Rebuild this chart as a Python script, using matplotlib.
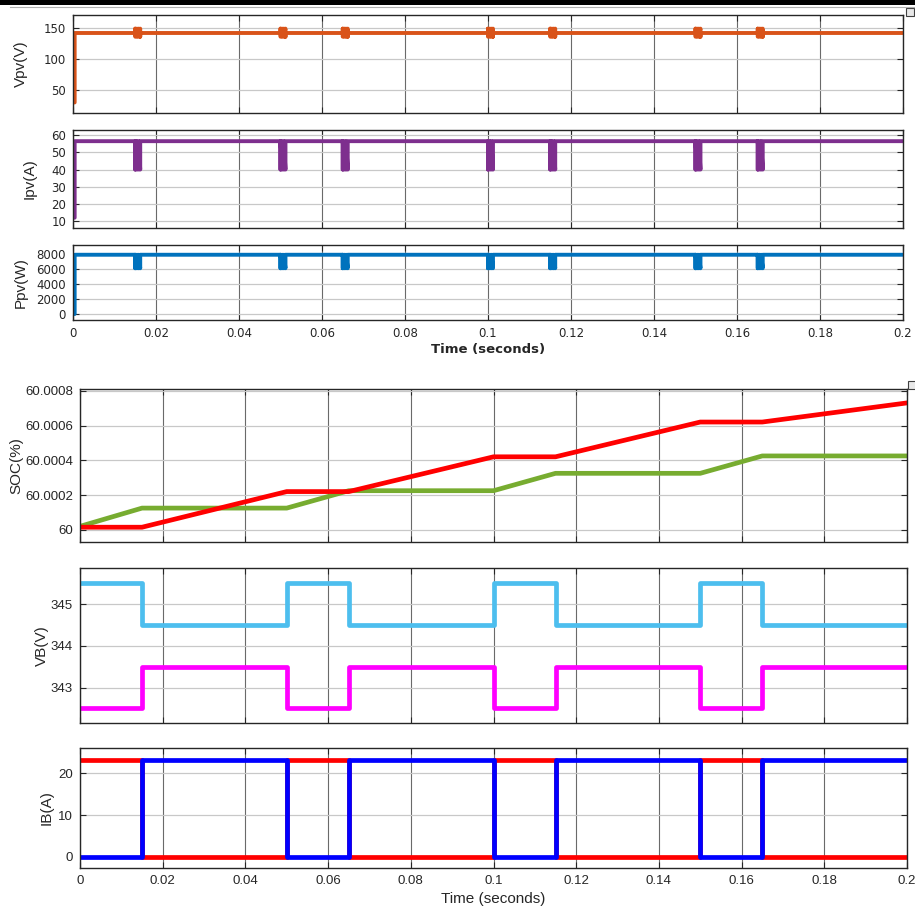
import numpy as np
import matplotlib
matplotlib.use("Agg")
import matplotlib.pyplot as plt
from matplotlib.patches import Rectangle
from matplotlib.lines import Line2D

# ---------------------------------------------------------------------------
# Data
# ---------------------------------------------------------------------------
T_END = 0.2
T_RISE = 0.0004
events = [0.015, 0.05, 0.065, 0.1, 0.115, 0.15, 0.165]

vpv_start, vpv_level, vpv_hi, vpv_lo = 30, 142, 149, 136
ipv_start, ipv_level, ipv_dip = 12, 56.5, 40
ppv_start, ppv_level, ppv_dip = 0, 7900, 6100

soc_t = [0, 0.015, 0.05, 0.065, 0.1, 0.115, 0.15, 0.165, 0.2]
soc_red = [60.000015, 60.000015, 60.00022, 60.00022, 60.00042, 60.00042,
           60.00062, 60.00062, 60.00073]
soc_green = [60.00002, 60.000125, 60.000125, 60.000225, 60.000225,
             60.000325, 60.000325, 60.000425, 60.000425]

sw_t = [0, 0.015, 0.05, 0.065, 0.1, 0.115, 0.15, 0.165, 0.2]
vb_cyan = [345.5, 344.5, 345.5, 344.5, 345.5, 344.5, 345.5, 344.5]
vb_magenta = [342.5, 343.5, 342.5, 343.5, 342.5, 343.5, 342.5, 343.5]
ib_red = [23.2, 0, 23.2, 0, 23.2, 0, 23.2, 0]
ib_blue = [0, 23.2, 0, 23.2, 0, 23.2, 0, 23.2]

xticks = [0, 0.02, 0.04, 0.06, 0.08, 0.1, 0.12, 0.14, 0.16, 0.18, 0.2]
xticklabels = ["0", "0.02", "0.04", "0.06", "0.08", "0.1", "0.12",
               "0.14", "0.16", "0.18", "0.2"]

W, H = 915, 914


def spiky(start, level, a, b, width=0.0012):
    """Flat trace with short switching bursts at every event time."""
    t = [0.0, T_RISE, T_RISE]
    y = [start, start, level]
    for te in events:
        t.append(te)
        y.append(level)
        for k in range(4):
            tk = te + k * width / 3
            t += [tk, tk]
            y += [a, b]
        t.append(te + width)
        y.append(level)
    t.append(T_END)
    y.append(level)
    return t, y


def steps(values):
    return sw_t, list(values) + [values[-1]]


def px_axes(fig, left, top, right, bottom):
    return fig.add_axes([left / W, 1 - bottom / H, (right - left) / W, (bottom - top) / H])


def style(ax, tick_font, tick_size):
    ax.set_xlim(0, T_END)
    ax.set_xticks(xticks)
    ax.tick_params(direction="in", length=4, width=0.8, top=True, right=True,
                   colors="#262626", pad=5)
    for lab in ax.get_xticklabels() + ax.get_yticklabels():
        lab.set_fontfamily(tick_font)
        lab.set_fontsize(tick_size)
        lab.set_color("#262626")
    ax.grid(True, axis="x", color="#6a6a6a", linewidth=0.8)
    ax.grid(True, axis="y", color="#c8c8c8", linewidth=0.9)
    ax.set_axisbelow(True)
    for s in ax.spines.values():
        s.set_color("#262626")
        s.set_linewidth(1.0)


fig = plt.figure(figsize=(W / 100, H / 100), dpi=100)

# ---- top group -------------------------------------------------------------
ax1 = px_axes(fig, 73, 15, 903, 113)
ax2 = px_axes(fig, 73, 130, 903, 228)
ax3 = px_axes(fig, 73, 245, 903, 320)

t, y = spiky(vpv_start, vpv_level, vpv_hi, vpv_lo)
ax1.plot(t, y, color="#D95319", linewidth=2.8)
ax1.set_ylim(13, 171)
ax1.set_yticks([50, 100, 150])

t, y = spiky(ipv_start, ipv_level, ipv_dip, ipv_level)
ax2.plot(t, y, color="#7E2F8E", linewidth=2.8)
ax2.set_ylim(6, 63)
ax2.set_yticks([10, 20, 30, 40, 50, 60])

t, y = spiky(ppv_start, ppv_level, ppv_dip, ppv_level)
ax3.plot(t, y, color="#0072BD", linewidth=2.8)
ax3.set_ylim(-800, 9200)
ax3.set_yticks([0, 2000, 4000, 6000, 8000])

for ax in (ax1, ax2, ax3):
    ax.set_xticklabels(xticklabels)
    style(ax, "DejaVu Sans", 8.5)
for ax in (ax1, ax2):
    ax.tick_params(labelbottom=False)

ylab_font = ["Liberation Sans Narrow", "Liberation Sans"]
for ax, lab, x in ((ax1, "Vpv(V)", -45), (ax2, "Ipv(A)", -36), (ax3, "Ppv(W)", -45)):
    ax.set_ylabel(lab, family=ylab_font, fontsize=11, color="#262626")
    ax.yaxis.set_label_coords(x / 830, 0.5)
ax3.set_xlabel("Time (seconds)", family="DejaVu Sans", fontsize=9.5,
               fontweight="bold", color="#262626", labelpad=2)

# ---- bottom group ----------------------------------------------------------
ax4 = px_axes(fig, 80, 389, 907, 542)
ax5 = px_axes(fig, 80, 568, 907, 723)
ax6 = px_axes(fig, 80, 748, 907, 868)

ax4.plot(soc_t, soc_green, color="#77AC30", linewidth=3.4)
ax4.plot(soc_t, soc_red, color="#FF0000", linewidth=3.4)
ax4.set_ylim(59.99993, 60.00081)
soc_ticks = [60, 60.0002, 60.0004, 60.0006, 60.0008]
ax4.set_yticks(soc_ticks)
ax4.set_yticklabels(["60", "60.0002", "60.0004", "60.0006", "60.0008"])

t, y = steps(vb_cyan)
ax5.plot(t, y, color="#4DBEEE", linewidth=3.4, drawstyle="steps-post")
t, y = steps(vb_magenta)
ax5.plot(t, y, color="#FF00FF", linewidth=3.4, drawstyle="steps-post")
ax5.set_ylim(342.15, 345.87)
ax5.set_yticks([343, 344, 345])

t, y = steps(ib_red)
ax6.plot(t, y, color="#FF0000", linewidth=3.4, drawstyle="steps-post")
t, y = steps(ib_blue)
ax6.plot(t, y, color="#0000FF", linewidth=3.4, drawstyle="steps-post")
ax6.set_ylim(-2.7, 26.1)
ax6.set_yticks([0, 10, 20])

for ax in (ax4, ax5, ax6):
    ax.set_xticklabels(xticklabels)
    style(ax, "Liberation Sans", 9.5)
for ax in (ax4, ax5):
    ax.tick_params(labelbottom=False)

for ax, lab, x in ((ax4, "SOC(%)", -57), (ax5, "VB(V)", -31), (ax6, "IB(A)", -26)):
    ax.set_ylabel(lab, family="Liberation Sans", fontsize=11, color="#262626")
    ax.yaxis.set_label_coords(x / 827, 0.5)
ax6.set_xlabel("Time (seconds)", family="Liberation Sans", fontsize=11,
               color="#262626", labelpad=4)

# ---- window decorations ----------------------------------------------------
fig.add_artist(Rectangle((0, 1 - 5 / H), 1, 5 / H, transform=fig.transFigure,
                         facecolor="black", edgecolor="none"))
fig.add_artist(Line2D([10 / W, 1], [1 - 6.5 / H, 1 - 6.5 / H], transform=fig.transFigure,
                      color="#b0b0b0", linewidth=0.8))
for (x0, y0) in ((906, 8), (908, 381)):
    fig.add_artist(Rectangle((x0 / W, 1 - (y0 + 8) / H), 8 / W, 8 / H,
                             transform=fig.transFigure, facecolor="#e8e8e8",
                             edgecolor="#404040", linewidth=0.8))

fig.savefig("out.png", dpi=100)
